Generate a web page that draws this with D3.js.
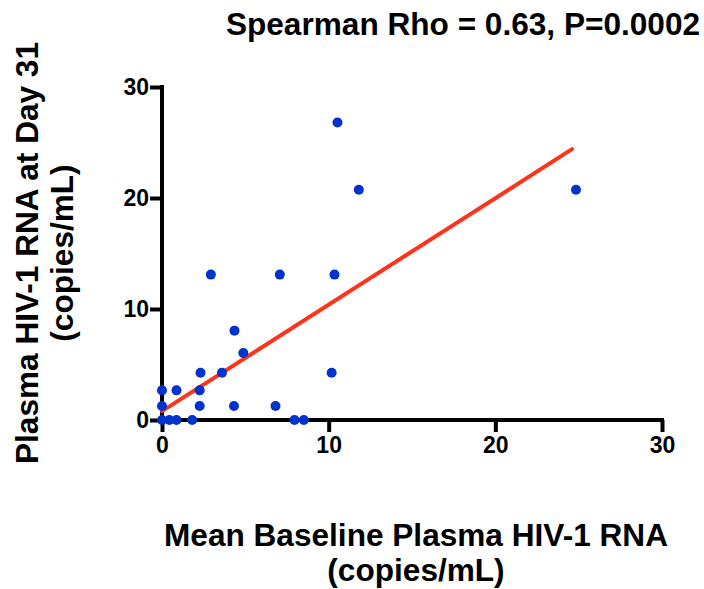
<!DOCTYPE html>
<html>
<head>
<meta charset="utf-8">
<script src="https://cdn.jsdelivr.net/npm/d3@7"></script>
<style>
  html, body { margin: 0; padding: 0; background: #fff; }
  svg { display: block; }
  text { font-family: "Liberation Sans", Arial, Helvetica, sans-serif; font-weight: bold; fill: #000; }
</style>
</head>
<body>
<script>
// ---- data ----
const baselineRNA = [10.53, 11.81, 24.84, 2.93, 7.07, 10.35, 4.35, 4.88, 2.31, 3.60, 10.18,
                     0, 0.87, 2.26, 0, 2.26, 4.32, 6.81, 0, 0.44, 0.87, 1.81, 7.95, 8.51];
const day31RNA    = [26.8, 20.75, 20.75, 13.1, 13.1, 13.1, 8.05, 6.04, 4.26, 4.26, 4.26,
                     2.67, 2.67, 2.67, 1.26, 1.26, 1.26, 1.26, 0, 0, 0, 0, 0, 0];
const fitX = [0, 24.6];
const fitY = [0.8, 24.4];
const xTicks = [0, 10, 20, 30];
const yTicks = [0, 10, 20, 30];
const titleText = "Spearman Rho = 0.63, P=0.0002";
const xTitle = ["Mean Baseline Plasma HIV-1 RNA", "(copies/mL)"];
const yTitle = ["Plasma HIV-1 RNA at Day 31", "(copies/mL)"];

// ---- layout ----
const W = 704, H = 589;
const svg = d3.select("body").append("svg").attr("width", W).attr("height", H);

const x = d3.scaleLinear().domain([0, 30]).range([162, 662]);
const y = d3.scaleLinear().domain([0, 30]).range([420, 87]);

// axes
const xAxis = svg.append("g").attr("transform", `translate(0,${y(0)})`)
  .call(d3.axisBottom(x).tickValues(xTicks).tickSize(12).tickPadding(5).tickFormat(d3.format("d")));
const yAxis = svg.append("g").attr("transform", `translate(${x(0)},0)`)
  .call(d3.axisLeft(y).tickValues(yTicks).tickSize(12).tickPadding(1).tickFormat(d3.format("d")));

[xAxis, yAxis].forEach(g => {
  g.select(".domain").attr("stroke", "#000").attr("stroke-width", 4).attr("stroke-linecap", "square");
  g.selectAll(".tick line").attr("stroke", "#000").attr("stroke-width", 4);
  g.selectAll(".tick text").attr("font-size", 23).attr("font-weight", "bold")
    .attr("font-family", '"Liberation Sans", Arial, sans-serif').attr("fill", "#000");
});
xAxis.select(".domain").attr("d", `M${x(0)},0H${x(30)}`);
yAxis.select(".domain").attr("d", `M0,${y(0)}V${y(30)}`);

// regression line
svg.append("line")
  .attr("x1", x(fitX[0])).attr("y1", y(fitY[0]))
  .attr("x2", x(fitX[1])).attr("y2", y(fitY[1]))
  .attr("stroke", "#FF3319").attr("stroke-width", 4).attr("stroke-linecap", "round");

// points
svg.append("g").selectAll("circle")
  .data(baselineRNA.map((d, i) => [d, day31RNA[i]]))
  .join("circle")
  .attr("cx", d => x(d[0])).attr("cy", d => y(d[1]))
  .attr("r", 5).attr("fill", "#0033CC");

// title
svg.append("text").attr("x", 463).attr("y", 35).attr("text-anchor", "middle")
  .attr("font-size", 31.6).text(titleText);

// x title
svg.append("g").selectAll("text").data(xTitle).join("text")
  .attr("x", 416).attr("y", (d, i) => 546 + i * 35)
  .attr("text-anchor", "middle").attr("font-size", 31.6).text(d => d);

// y title
svg.append("g").selectAll("text").data(yTitle).join("text")
  .attr("transform", (d, i) => `translate(${38 + i * 35},253) rotate(-90)`)
  .attr("text-anchor", "middle").attr("font-size", 31.6).text(d => d);
</script>
</body>
</html>
